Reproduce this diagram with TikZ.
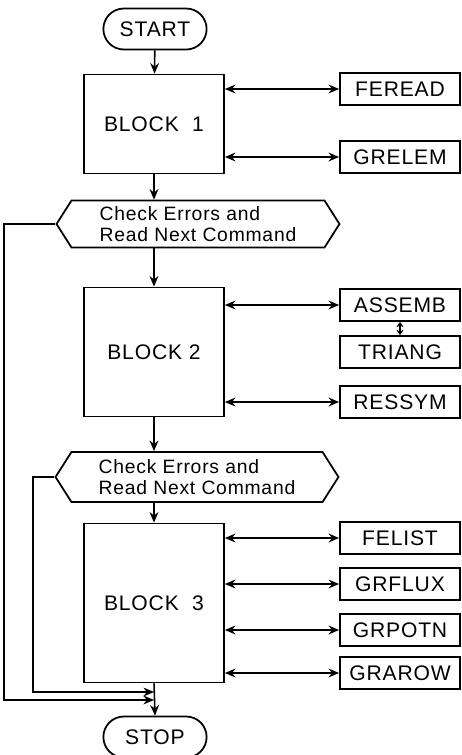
\documentclass[tikz,border=0pt]{standalone}
\usepackage{fontspec}
\setmainfont{Liberation Sans}[LetterSpace=4]
\usetikzlibrary{arrows.meta,positioning,shapes.misc,shapes.symbols}
\newcommand{\fs}{\fontsize{11}{12}\selectfont}
\newcommand{\fsb}{\fontsize{12}{13}\selectfont}
\tikzset{
  term/.style={draw,rounded rectangle,line width=1pt,
               minimum width=2.3cm,minimum height=0.82cm,font=\fsb},
  blk/.style={draw,line width=1pt,minimum width=2.8cm,font=\fsb},
  sub/.style={draw,line width=1pt,minimum width=2.4cm,
              minimum height=0.64cm,font=\fsb},
  chk/.style={draw,signal,signal to=west and east,signal pointer angle=115,
              line width=1pt,minimum width=5.66cm,minimum height=0.94cm,
              align=left,font=\fs},
  arr/.style={-{Stealth[length=6pt,width=5pt]},line width=0.9pt},
  darr/.style={{Stealth[length=6pt,width=5pt]}-{Stealth[length=6pt,width=5pt]},
               line width=0.9pt},
  sdarr/.style={{Stealth[length=3pt,width=4pt]}-{Stealth[length=3pt,width=4pt]},
               line width=0.9pt},
}

\begin{document}
\begin{tikzpicture}[x=0.02cm,y=-0.02cm]
  \useasboundingbox (0,0) rectangle (462,755);

  % Main column
  \node[term]                       (START)  at (155,29)  {START};
  \node[blk,minimum height=1.98cm]  (BLOCK1) at (154,124) {BLOCK\ \ 1};
  \node[chk,minimum height=0.94cm]  (H1)     at (198,224) {Check Errors and\\Read Next Command};
  \node[blk,minimum height=2.58cm]  (BLOCK2) at (154,352) {BLOCK 2};
  \node[chk,minimum height=1.0cm]   (H2)     at (197,477) {Check Errors and\\Read Next Command};
  \node[blk,minimum height=3.18cm]  (BLOCK3) at (154,603) {BLOCK\ \ 3};
  \node[term]                       (STOP)   at (155,737) {STOP};

  % Subroutines
  \node[sub] (FEREAD) at (400,89)  {FEREAD};
  \node[sub] (GRELEM) at (400,157) {GRELEM};
  \node[sub] (ASSEMB) at (400,305) {ASSEMB};
  \node[sub] (TRIANG) at (400,352) {TRIANG};
  \node[sub] (RESSYM) at (400,402) {RESSYM};
  \node[sub] (FELIST) at (400,538) {FELIST};
  \node[sub] (GRFLUX) at (400,584) {GRFLUX};
  \node[sub] (GRPOTN) at (400,630) {GRPOTN};
  \node[sub] (GRAROW) at (400,673) {GRAROW};

  % Flow down
  \draw[arr] (START)        -- (BLOCK1);
  \draw[arr] (BLOCK1.south) -- (BLOCK1.south |- H1.north);
  \draw[arr] (BLOCK2.north |- H1.south) -- (BLOCK2.north);
  \draw[arr] (BLOCK2.south) -- (BLOCK2.south |- H2.north);
  \draw[arr] (BLOCK3.north |- H2.south) -- (BLOCK3.north);
  \draw[arr] (BLOCK3.south) -- (STOP.north);

  % Calls
  \draw[darr] (BLOCK1.east |- FEREAD) -- (FEREAD);
  \draw[darr] (BLOCK1.east |- GRELEM) -- (GRELEM);
  \draw[darr] (BLOCK2.east |- ASSEMB) -- (ASSEMB);
  \draw[sdarr] (ASSEMB.south) -- (TRIANG.north);
  \draw[darr] (BLOCK2.east |- RESSYM) -- (RESSYM);
  \draw[darr] (BLOCK3.east |- FELIST) -- (FELIST);
  \draw[darr] (BLOCK3.east |- GRFLUX) -- (GRFLUX);
  \draw[darr] (BLOCK3.east |- GRPOTN) -- (GRPOTN);
  \draw[darr] (BLOCK3.east |- GRAROW) -- (GRAROW);

  % Error exits
  \coordinate (o1) at (4,700);
  \coordinate (o2) at (33,692);
  \draw[arr] (H1.west) -| (o1) -- (o1 -| BLOCK3.south);
  \draw[arr] (H2.west) -| (o2) -- (o2 -| BLOCK3.south);
\end{tikzpicture}
\end{document}
